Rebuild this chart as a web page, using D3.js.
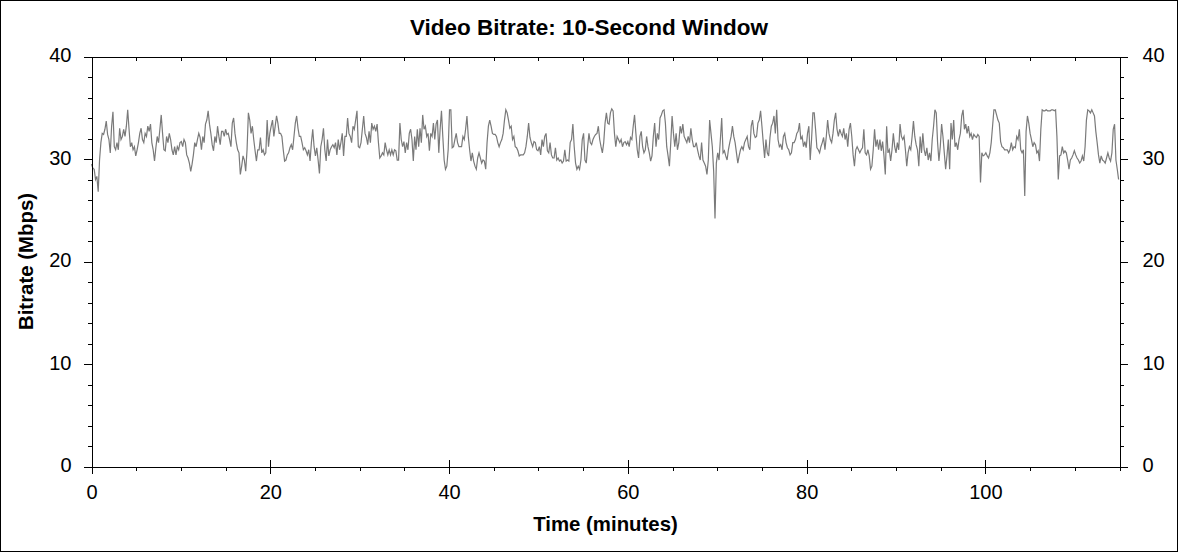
<!DOCTYPE html>
<html>
<head>
<meta charset="utf-8">
<script src="https://cdn.jsdelivr.net/npm/d3@7"></script>
<style>
  body { margin: 0; background: #fff; }
  svg { display: block; font-family: "Liberation Sans", Arial, sans-serif; }
</style>
</head>
<body>
<svg id="chart" width="1178" height="552"></svg>
<script>
// one sample every 0.15 min (9 s)
const SAMPLE_MIN = 0.15;
const bitrate = [
  29.5, 29.1, 29.0, 28.0, 28.3, 26.8, 29.9, 31.6, 32.5, 32.4,
  32.9, 33.7, 32.4, 31.9, 30.6, 33.2, 34.6, 31.2, 30.9, 31.6,
  30.9, 33.0, 31.9, 32.2, 32.9, 32.2, 33.2, 34.8, 32.9, 31.2,
  31.6, 30.9, 31.2, 30.3, 30.9, 31.6, 32.5, 33.0, 31.9, 31.6,
  32.5, 32.2, 33.2, 32.7, 33.4, 31.6, 30.9, 29.8, 31.1, 32.2,
  31.6, 32.9, 34.3, 32.5, 30.9, 30.8, 32.2, 31.6, 32.5, 31.9,
  30.9, 30.4, 31.2, 30.4, 31.2, 30.9, 31.6, 31.7, 31.2, 31.9,
  31.6, 30.4, 30.1, 29.6, 28.8, 29.5, 30.4, 31.6, 31.2, 31.9,
  32.5, 32.1, 30.9, 32.2, 31.6, 33.4, 33.8, 34.7, 33.4, 32.5,
  31.4, 30.8, 32.2, 31.6, 33.2, 32.2, 31.4, 32.7, 32.7, 32.2,
  32.9, 32.4, 32.5, 31.9, 31.2, 33.5, 34.0, 32.5, 31.6, 30.9,
  30.6, 28.5, 29.3, 30.3,
  29.9, 28.8, 30.9, 34.5, 33.8, 32.5, 33.2, 31.9, 30.8, 29.8,
  30.9, 30.9, 32.1, 30.6, 30.9, 30.4, 30.6, 33.8, 31.2, 32.5,
  33.2, 33.8, 32.2, 33.2, 34.2, 33.5, 32.5, 32.5, 32.2, 30.9,
  29.8, 29.9, 30.4, 30.6, 31.1, 31.4, 30.9, 32.2, 33.5, 34.2,
  33.0, 32.2, 32.2, 31.6, 30.9, 31.1, 30.8, 30.4, 30.9, 29.8,
  31.6, 32.9, 31.2, 30.3, 31.1, 29.9, 28.6, 31.2, 31.9, 33.0,
  30.9, 29.8, 31.9, 30.3, 30.9, 31.2, 31.4, 31.1, 31.6, 30.4,
  31.9, 30.9, 31.6, 32.5, 30.3, 32.2, 32.2, 34.0, 32.5, 32.2,
  31.6, 33.2, 32.9, 33.8, 34.7, 31.2, 31.1, 31.6, 32.9, 34.2,
  32.5, 32.1, 31.4, 32.7, 31.6, 33.5, 32.9, 33.2, 32.7, 33.4,
  31.6, 30.1, 30.3, 30.6, 30.4, 31.6, 30.9, 30.4, 30.9, 30.4,
  30.9, 30.4, 30.9, 30.8, 29.9,
  29.9, 33.5, 31.9, 31.2, 31.7, 30.6, 31.6, 30.9, 32.5, 32.9,
  31.9, 29.8, 32.2, 30.9, 32.9, 31.2, 33.0, 31.6, 34.3, 32.9,
  33.2, 32.2, 32.5, 30.8, 32.5, 32.2, 33.5, 31.9, 33.4, 33.8,
  30.6, 32.9, 34.7, 32.2, 29.9, 29.0, 29.3, 30.9, 34.8, 34.8,
  31.1, 31.2, 31.9, 32.5, 31.6, 31.2, 31.2, 31.2, 32.2, 31.9,
  32.9, 34.2, 32.2, 30.9, 29.8, 30.6, 29.8, 29.3, 29.0, 30.1,
  30.6, 30.1, 29.6, 29.9, 29.8, 29.0, 31.6, 33.2, 33.8, 33.2,
  32.5, 32.4, 32.4, 32.2, 31.6, 31.2, 31.6, 31.9, 32.5, 33.8,
  34.8, 34.5, 33.8, 33.0, 33.2, 31.9, 32.2, 31.2, 31.1, 30.8,
  30.3, 30.4, 30.4, 30.4, 30.6, 31.2, 32.2, 33.5, 32.1, 31.6,
  31.2, 31.7, 31.6, 30.9, 30.8, 31.2, 30.4, 31.9, 31.2, 32.2,
  32.5, 30.8, 30.6, 31.6, 30.4, 30.1,
  30.1, 31.1, 29.9, 30.1, 29.8, 29.9, 29.6, 29.8, 30.9, 29.8,
  29.9, 29.8, 31.6, 31.9, 33.4, 31.2, 29.6, 29.0, 29.3, 29.0,
  29.9, 31.9, 32.5, 29.9, 29.6, 31.2, 32.5, 31.6, 31.4, 31.9,
  32.2, 32.4, 32.5, 33.2, 31.9, 31.2, 30.6, 31.6, 33.5, 34.5,
  33.5, 33.4, 34.5, 34.9, 34.7, 32.5, 31.2, 32.2, 31.9, 31.6,
  31.9, 31.2, 31.6, 31.7, 31.4, 31.7, 31.2, 32.1, 31.9, 33.2,
  34.3, 32.5, 30.9, 30.1, 32.2, 32.7, 31.2, 30.6, 30.9, 32.2,
  31.2, 30.6, 29.8, 30.3, 32.2, 33.5, 31.2, 32.5, 31.9, 34.0,
  34.3, 34.7, 34.8, 33.5, 31.2, 30.3, 29.3, 31.6, 34.2, 32.5,
  31.2, 32.5, 30.9, 31.6, 33.2, 32.5, 33.4, 32.2, 31.9, 31.6,
  32.2, 31.6, 33.0, 31.9, 31.2, 31.2, 31.6, 30.9, 30.3, 29.9,
  31.6, 29.9, 29.6, 29.3, 28.5, 29.9,
  33.8, 32.5, 31.2, 28.8, 24.2, 29.6, 30.6, 29.9, 31.9, 34.0,
  30.6, 30.8, 30.3, 29.9, 30.9, 31.6, 32.2, 33.2, 32.2, 31.6,
  30.6, 29.6, 30.3, 30.9, 31.2, 30.9, 31.6, 31.9, 32.2, 31.2,
  30.9, 33.2, 33.8, 32.5, 32.1, 32.2, 33.5, 33.8, 34.7, 33.2,
  31.6, 30.1, 31.9, 30.6, 30.3, 32.1, 33.2, 33.5, 34.2, 32.5,
  34.8, 31.9, 31.2, 31.4, 30.9, 32.2, 32.5, 31.6, 31.1, 30.9,
  30.4, 30.6, 31.6, 31.6, 31.9, 32.5, 32.7, 33.5, 31.9, 32.2,
  31.2, 31.7, 31.1, 32.5, 33.2, 29.9, 31.9, 34.5, 34.5, 32.9,
  31.1, 30.9, 30.6, 31.2, 31.6, 32.1, 30.9, 32.2, 33.8, 32.5,
  31.9, 31.6, 32.5, 33.8, 34.5, 32.9, 32.2, 32.9, 32.5, 32.2,
  33.0, 31.9, 32.5, 31.2, 32.9, 33.5, 32.2, 30.4, 29.3, 30.9,
  31.2, 30.9, 30.6, 30.9, 31.1,
  32.9, 30.6, 30.4, 30.9, 30.3, 29.0, 29.3, 30.9, 32.9, 31.2,
  31.9, 30.9, 31.9, 30.8, 31.7, 30.3, 28.5, 33.2, 30.6, 30.9,
  29.8, 30.9, 32.5, 31.2, 30.6, 31.6, 30.9, 33.4, 32.2, 31.9,
  32.2, 30.9, 29.3, 30.6, 31.2, 30.9, 32.2, 33.7, 32.2, 31.4,
  30.9, 29.3, 32.2, 30.6, 32.5, 30.9, 30.3, 31.1, 29.9, 30.6,
  29.8, 31.9, 33.2, 34.8, 34.5, 31.6, 29.8, 31.2, 33.4, 32.2,
  30.6, 29.0, 30.3, 31.9, 29.0, 33.5, 31.9, 33.8, 31.2, 31.6,
  30.9, 31.9, 32.5, 34.2, 34.8, 32.9, 33.4, 32.5, 33.2, 32.2,
  32.5, 31.9, 32.4, 32.2, 32.1, 32.4, 32.2, 27.7, 30.6, 30.3,
  30.4, 30.6, 30.3, 30.1, 30.6, 31.6, 33.2, 34.8, 34.8, 34.3,
  33.8, 33.5, 31.7, 31.2, 31.1, 30.9, 30.9, 30.9, 30.6, 30.9,
  31.6, 30.9, 31.2, 31.1, 32.2, 31.9,
  32.9, 30.9, 30.6, 30.9, 26.4, 32.7, 34.2, 33.5, 32.5, 31.9,
  31.2, 31.6, 31.4, 30.6, 30.8, 29.8, 32.9, 34.8, 34.7, 34.7,
  34.8, 34.7, 34.7, 34.7, 34.8, 34.8, 34.7, 34.8, 32.2, 28.0,
  30.3, 30.4, 31.2, 30.6, 30.8, 30.6, 29.9, 29.0, 29.9, 30.1,
  30.4, 30.8, 30.4, 30.1, 29.9, 29.6, 29.8, 30.3, 29.8, 31.2,
  33.8, 34.8, 34.7, 34.5, 34.8, 34.5, 34.2, 32.7, 31.6, 30.4,
  29.6, 30.3, 29.9, 29.8, 29.6, 30.1, 30.6, 30.1, 29.8, 30.6,
  32.9, 33.4, 29.9, 29.0, 28.0
];

const xDomain = [0, 115];
const yDomain = [0, 40];
const xTicks = [0, 20, 40, 60, 80, 100];
const xMinorTicks = [5, 10, 15, 25, 30, 35, 45, 50, 55, 65, 70, 75, 85, 90, 95, 105, 110, 115];
const yTicks = [0, 10, 20, 30, 40];
const yMinorTicks = [2, 4, 6, 8, 12, 14, 16, 18, 22, 24, 26, 28, 32, 34, 36, 38];

const titleText = 'Video Bitrate: 10-Second Window';
const xLabel = 'Time (minutes)';
const yLabel = 'Bitrate (Mbps)';

const W = 1178, H = 552;
const margin = { top: 56.5, right: 58.5, bottom: 85.5, left: 91.5 };

const svg = d3.select('#chart');

// outer frame
svg.append('rect')
  .attr('x', 0.5).attr('y', 0.5)
  .attr('width', W - 1).attr('height', H - 1)
  .attr('fill', '#fff').attr('stroke', '#000');

const x = d3.scaleLinear().domain(xDomain).range([margin.left, W - margin.right]);
const y = d3.scaleLinear().domain(yDomain).range([H - margin.bottom, margin.top]);

const x0 = margin.left, x1 = W - margin.right;
const y0 = H - margin.bottom, y1 = margin.top;

function styleAxis(g) {
  g.attr('font-family', '"Liberation Sans", Arial, sans-serif')
    .attr('font-size', 20)
    .attr('shape-rendering', 'crispEdges');
  g.selectAll('text').attr('fill', '#000');
  return g;
}

// line first, axes drawn over it
const line = d3.line()
  .x((d, i) => x(i * SAMPLE_MIN))
  .y(d => y(d));

svg.append('path')
  .datum(bitrate)
  .attr('fill', 'none')
  .attr('stroke', '#7a7a7a')
  .attr('stroke-width', 1.2)
  .attr('d', line);

// left axis
svg.append('g')
  .attr('transform', `translate(${x0},0)`)
  .call(d3.axisLeft(y).tickValues(yTicks).tickSize(7.5).tickSizeOuter(0).tickPadding(12.5))
  .call(styleAxis)
  .call(g => g.selectAll('text').attr('dy', '0.26em'));
svg.append('g')
  .attr('transform', `translate(${x0},0)`)
  .call(d3.axisLeft(y).tickValues(yMinorTicks).tickSize(4).tickFormat(''))
  .call(styleAxis)
  .call(g => g.select('.domain').remove());

// right axis
svg.append('g')
  .attr('transform', `translate(${x1},0)`)
  .call(d3.axisRight(y).tickValues(yTicks).tickSize(8.5).tickSizeOuter(0).tickPadding(14.5))
  .call(styleAxis)
  .call(g => g.selectAll('text').attr('dy', '0.26em'));
svg.append('g')
  .attr('transform', `translate(${x1},0)`)
  .call(d3.axisRight(y).tickValues(yMinorTicks).tickSize(4.5).tickFormat(''))
  .call(styleAxis)
  .call(g => g.select('.domain').remove());

// bottom axis: major ticks cross the line, minor hang below
svg.append('g')
  .attr('transform', `translate(0,${y0})`)
  .call(d3.axisBottom(x).tickValues(xTicks).tickSize(7).tickSizeOuter(0).tickPadding(11))
  .call(styleAxis);
svg.append('g')
  .attr('transform', `translate(0,${y0})`)
  .call(d3.axisTop(x).tickValues(xTicks).tickSize(7).tickFormat(''))
  .call(styleAxis)
  .call(g => g.select('.domain').remove());
svg.append('g')
  .attr('transform', `translate(0,${y0})`)
  .call(d3.axisBottom(x).tickValues(xMinorTicks).tickSize(4.5).tickFormat(''))
  .call(styleAxis)
  .call(g => g.select('.domain').remove());

// top axis, ticks pointing in
svg.append('g')
  .attr('transform', `translate(0,${y1})`)
  .call(d3.axisBottom(x).tickValues(xTicks).tickSize(7).tickSizeOuter(0).tickFormat(''))
  .call(styleAxis);
svg.append('g')
  .attr('transform', `translate(0,${y1})`)
  .call(d3.axisBottom(x).tickValues(xMinorTicks).tickSize(4.5).tickFormat(''))
  .call(styleAxis)
  .call(g => g.select('.domain').remove());

// titles
svg.append('text')
  .attr('x', W / 2).attr('y', 35)
  .attr('text-anchor', 'middle')
  .attr('font-size', 22.5).attr('font-weight', 'bold')
  .text(titleText);

svg.append('text')
  .attr('x', (x0 + x1) / 2).attr('y', 531)
  .attr('text-anchor', 'middle')
  .attr('font-size', 20.4).attr('font-weight', 'bold')
  .text(xLabel);

svg.append('text')
  .attr('transform', `translate(33,${(y0 + y1) / 2}) rotate(-90)`)
  .attr('text-anchor', 'middle')
  .attr('font-size', 20.4).attr('font-weight', 'bold')
  .text(yLabel);
</script>
</body>
</html>
